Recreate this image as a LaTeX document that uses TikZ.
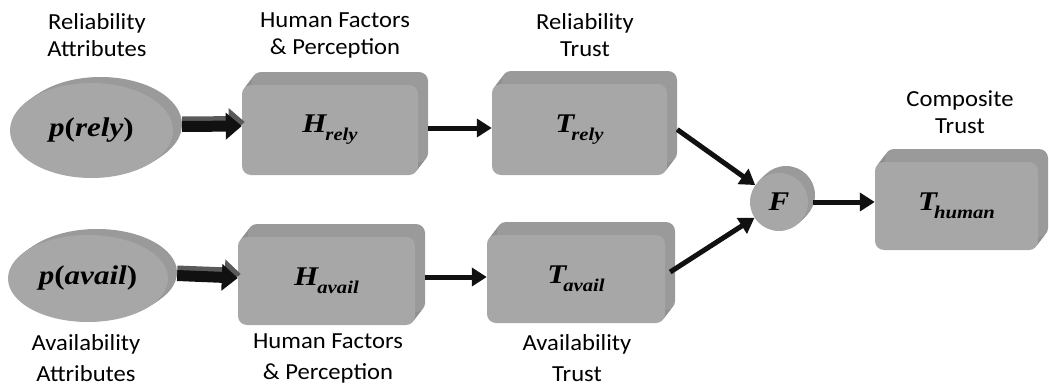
\documentclass[tikz,border=0pt]{standalone}
\usepackage{fontspec}
\setmainfont{Carlito}[FakeStretch=1.07]
\newfontfamily\tms{Liberation Serif}[FakeStretch=1.15]
\usetikzlibrary{shapes.geometric,shadows,arrows.meta}
\definecolor{facegray}{HTML}{A7A7A7}
\definecolor{sidegray}{HTML}{8F8F8F}
\definecolor{backgray}{HTML}{9A9A9A}
\definecolor{arrowdark}{HTML}{111111}
\definecolor{arrowtop}{HTML}{5A5A5A}
\newcommand{\msub}[3]{{\tms\bfseries\itshape\fontsize{27}{27}\selectfont #1\kern#3\raisebox{-8pt}{\fontsize{18}{18}\selectfont #2}}}
\newcommand{\plab}[1]{{\tms\bfseries\fontsize{27}{27}\selectfont\textit{p}(\textit{#1})}}
\begin{document}
\begin{tikzpicture}[x=1pt,y=-1pt,
  boxext/.style={
    general shadow={shadow xshift=1.7pt, shadow yshift=2.2pt, fill=sidegray},
    general shadow={shadow xshift=3.3pt, shadow yshift=4.3pt, fill=sidegray},
    general shadow={shadow xshift=5pt, shadow yshift=6.5pt, fill=sidegray},
    general shadow={shadow xshift=6.7pt, shadow yshift=8.7pt, fill=sidegray},
    general shadow={shadow xshift=8.3pt, shadow yshift=10.8pt, fill=sidegray},
    general shadow={shadow xshift=10pt, shadow yshift=13pt, fill=backgray}},
  ellext/.style={
    general shadow={shadow xshift=1.8pt, shadow yshift=1.2pt, fill=sidegray},
    general shadow={shadow xshift=3.6pt, shadow yshift=2.4pt, fill=sidegray},
    general shadow={shadow xshift=5.4pt, shadow yshift=3.6pt, fill=sidegray},
    general shadow={shadow xshift=7.2pt, shadow yshift=4.8pt, fill=sidegray},
    general shadow={shadow xshift=9pt, shadow yshift=6pt, fill=backgray}},
  circext/.style={
    general shadow={shadow xshift=1.4pt, shadow yshift=1.4pt, fill=sidegray},
    general shadow={shadow xshift=2.8pt, shadow yshift=2.8pt, fill=sidegray},
    general shadow={shadow xshift=4.2pt, shadow yshift=4.2pt, fill=sidegray},
    general shadow={shadow xshift=5.6pt, shadow yshift=5.6pt, fill=sidegray},
    general shadow={shadow xshift=7pt, shadow yshift=7pt, fill=backgray}},
  box3d/.style={rectangle, rounded corners=9pt, fill=facegray, inner sep=0pt, boxext},
  ell3d/.style={ellipse, fill=facegray, inner sep=0pt, ellext},
  circ3d/.style={circle, fill=facegray, inner sep=0pt, minimum size=58pt, circext},
  lab/.style={anchor=north, align=center, inner sep=0pt, font=\fontsize{23}{27}\selectfont},
  labb/.style={anchor=north, align=center, inner sep=0pt, font=\fontsize{23}{31}\selectfont},
  arr/.style={draw=arrowdark, line width=5pt, -{Triangle[length=15pt,width=18pt]}},
  bigtop/.style={draw=arrowtop, line width=12pt, -{Triangle[length=16pt,width=27pt]}},
  bigarr/.style={draw=arrowdark, line width=11pt, -{Triangle[length=16pt,width=26pt]}}
]
\useasboundingbox (0,0) rectangle (1049,388);

% shapes
\node[ell3d, minimum width=163pt, minimum height=95pt] (pr) at (91.5,130.5) {\plab{rely}};
\node[ell3d, minimum width=160pt, minimum height=87pt] (pa) at (88,278.5) {\plab{avail}};
\node[box3d, minimum width=176pt, minimum height=90pt] (hr) at (330,130) {\msub{H}{rely}{-1pt}};
\node[box3d, minimum width=177pt, minimum height=88pt] (ha) at (326.5,281) {\msub{H}{avail}{-1pt}};
\node[box3d, minimum width=175pt, minimum height=91pt] (tr) at (579.5,129.5) {\msub{T}{rely}{-3pt}};
\node[box3d, minimum width=178pt, minimum height=88pt] (ta) at (576,279) {\msub{T}{avail}{-3pt}};
\node[circ3d] (F) at (779,202) {{\tms\bfseries\itshape\fontsize{27}{27}\selectfont F}};
\node[box3d, minimum width=163pt, minimum height=88pt] (th) at (956.5,206) {\msub{T}{human}{-3pt}};

% labels
\node[lab] (l1) at (97,13) {Reliability\\Attributes};
\node[lab] (l2) at (335,13) {Human Factors\\\& Perception};
\node[lab] (l3) at (585,13) {Reliability\\Trust};
\node[lab] (l4) at (960,90) {Composite\\Trust};
\node[labb] (l5) at (86,334) {Availability\\Attributes};
\node[labb] (l6) at (328,334) {Human Factors\\\& Perception};
\node[labb] (l7) at (577,334) {Availability\\Trust};

% connectors
\draw[bigtop] ([xshift=9pt,yshift=8pt]pr.east) -- ([xshift=3pt,yshift=8pt]hr.west);
\draw[bigarr] ([xshift=9pt,yshift=4pt]pr.east) -- ([yshift=4pt]hr.west);
\draw[bigtop] ([xshift=9pt,yshift=7pt]pa.east) -- ([xshift=3pt,yshift=7pt]ha.west);
\draw[bigarr] ([xshift=9pt,yshift=3pt]pa.east) -- ([yshift=3pt]ha.west);
\draw[arr] ([xshift=10pt,yshift=2pt]hr.east) -- ([yshift=2pt]hr.east -| tr.west);
\draw[arr] ([xshift=10pt,yshift=4pt]ha.east) -- ([yshift=4pt]ha.east -| ta.west);
\draw[arr] ([xshift=10pt]tr.east) -- (F);
\draw[arr] ([xshift=5pt,yshift=7pt]ta.east) -- (F);
\draw[arr] ([xshift=5pt]F.east) -- (F.east -| th.west);
\end{tikzpicture}
\end{document}
